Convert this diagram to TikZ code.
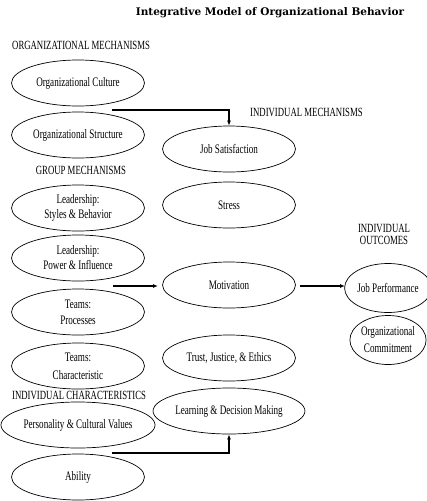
\documentclass[tikz,border=0pt]{standalone}
\usepackage{fontspec}
\setmainfont{Liberation Serif}
\newfontfamily\condfont[FakeStretch=0.7]{Liberation Serif}
\newfontfamily\titlefont{DejaVu Serif}
\usetikzlibrary{shapes.geometric,arrows.meta}
\begin{document}
\begin{tikzpicture}[x=1pt,y=-1pt,
  oval/.style={ellipse,draw,line width=0.7pt,minimum width=133pt,minimum height=46pt,inner sep=0pt,align=center,font=\condfont\fontsize{13}{15}\selectfont},
  smalloval/.style={oval,minimum width=73pt,minimum height=49pt},
  hdr/.style={font=\condfont\fontsize{12.5}{13}\selectfont,inner sep=0pt,align=center},
  conn/.style={line width=1.4pt,-{Latex[length=5pt,width=4pt]}}]
\useasboundingbox (0,0) rectangle (427,501);
\node[font=\titlefont\bfseries\fontsize{10.5}{12}\selectfont,inner sep=0pt] (title) at (270,13) {Integrative Model of Organizational Behavior};
\node[hdr,anchor=west] (hom) at (12,45) {ORGANIZATIONAL MECHANISMS};
\node[hdr,anchor=west] (him) at (250,112) {INDIVIDUAL MECHANISMS};
\node[hdr] (hgm) at (81,170) {GROUP MECHANISMS};
\node[hdr] (hio) at (384,234) {INDIVIDUAL\\[-1pt]OUTCOMES};
\node[hdr,anchor=west] (hic) at (12,395) {INDIVIDUAL CHARACTERISTICS};
% left column
\node[oval] (culture) at (78,83) {Organizational Culture};
\node[oval] (structure) at (78,135) {Organizational Structure};
\node[oval] (styles) at (78,208) {Leadership:\\Styles \& Behavior};
\node[oval] (power) at (78,258) {Leadership:\\Power \& Influence};
\node[oval] (processes) at (78,312) {Teams:\\[1pt]Processes};
\node[oval] (charac) at (78,366) {Teams:\\[3pt]Characteristic};
\node[oval] (person) at (78,425) {Personality \& Cultural Values};
\node[oval] (ability) at (78,477) {Ability};
% middle column
\node[oval] (jobsat) at (229,149) {Job Satisfaction};
\node[oval] (stress) at (229,205) {Stress};
\node[oval] (motiv) at (229,285) {Motivation};
\node[oval] (trust) at (229,358) {Trust, Justice, \& Ethics};
\node[oval] (learn) at (229,411) {Learning \& Decision Making};
% right column
\node[smalloval] (perf) at (388,288) {Job Performance};
\node[smalloval] (commit) at (388,340) {Organizational\\[2pt]Commitment};
% connectors
\coordinate (a1) at (112,110);
\draw[conn] (a1) -| (jobsat.north);
\coordinate (a2) at (113,286);
\coordinate (a2e) at (158,286);
\draw[conn] (a2) -- (a2e);
\coordinate (a3) at (300,286);
\coordinate (a3e) at (345,286);
\draw[conn] (a3) -- (a3e);
\coordinate (a4) at (112,453);
\draw[conn] (a4) -| (learn.south);
\end{tikzpicture}
\end{document}
